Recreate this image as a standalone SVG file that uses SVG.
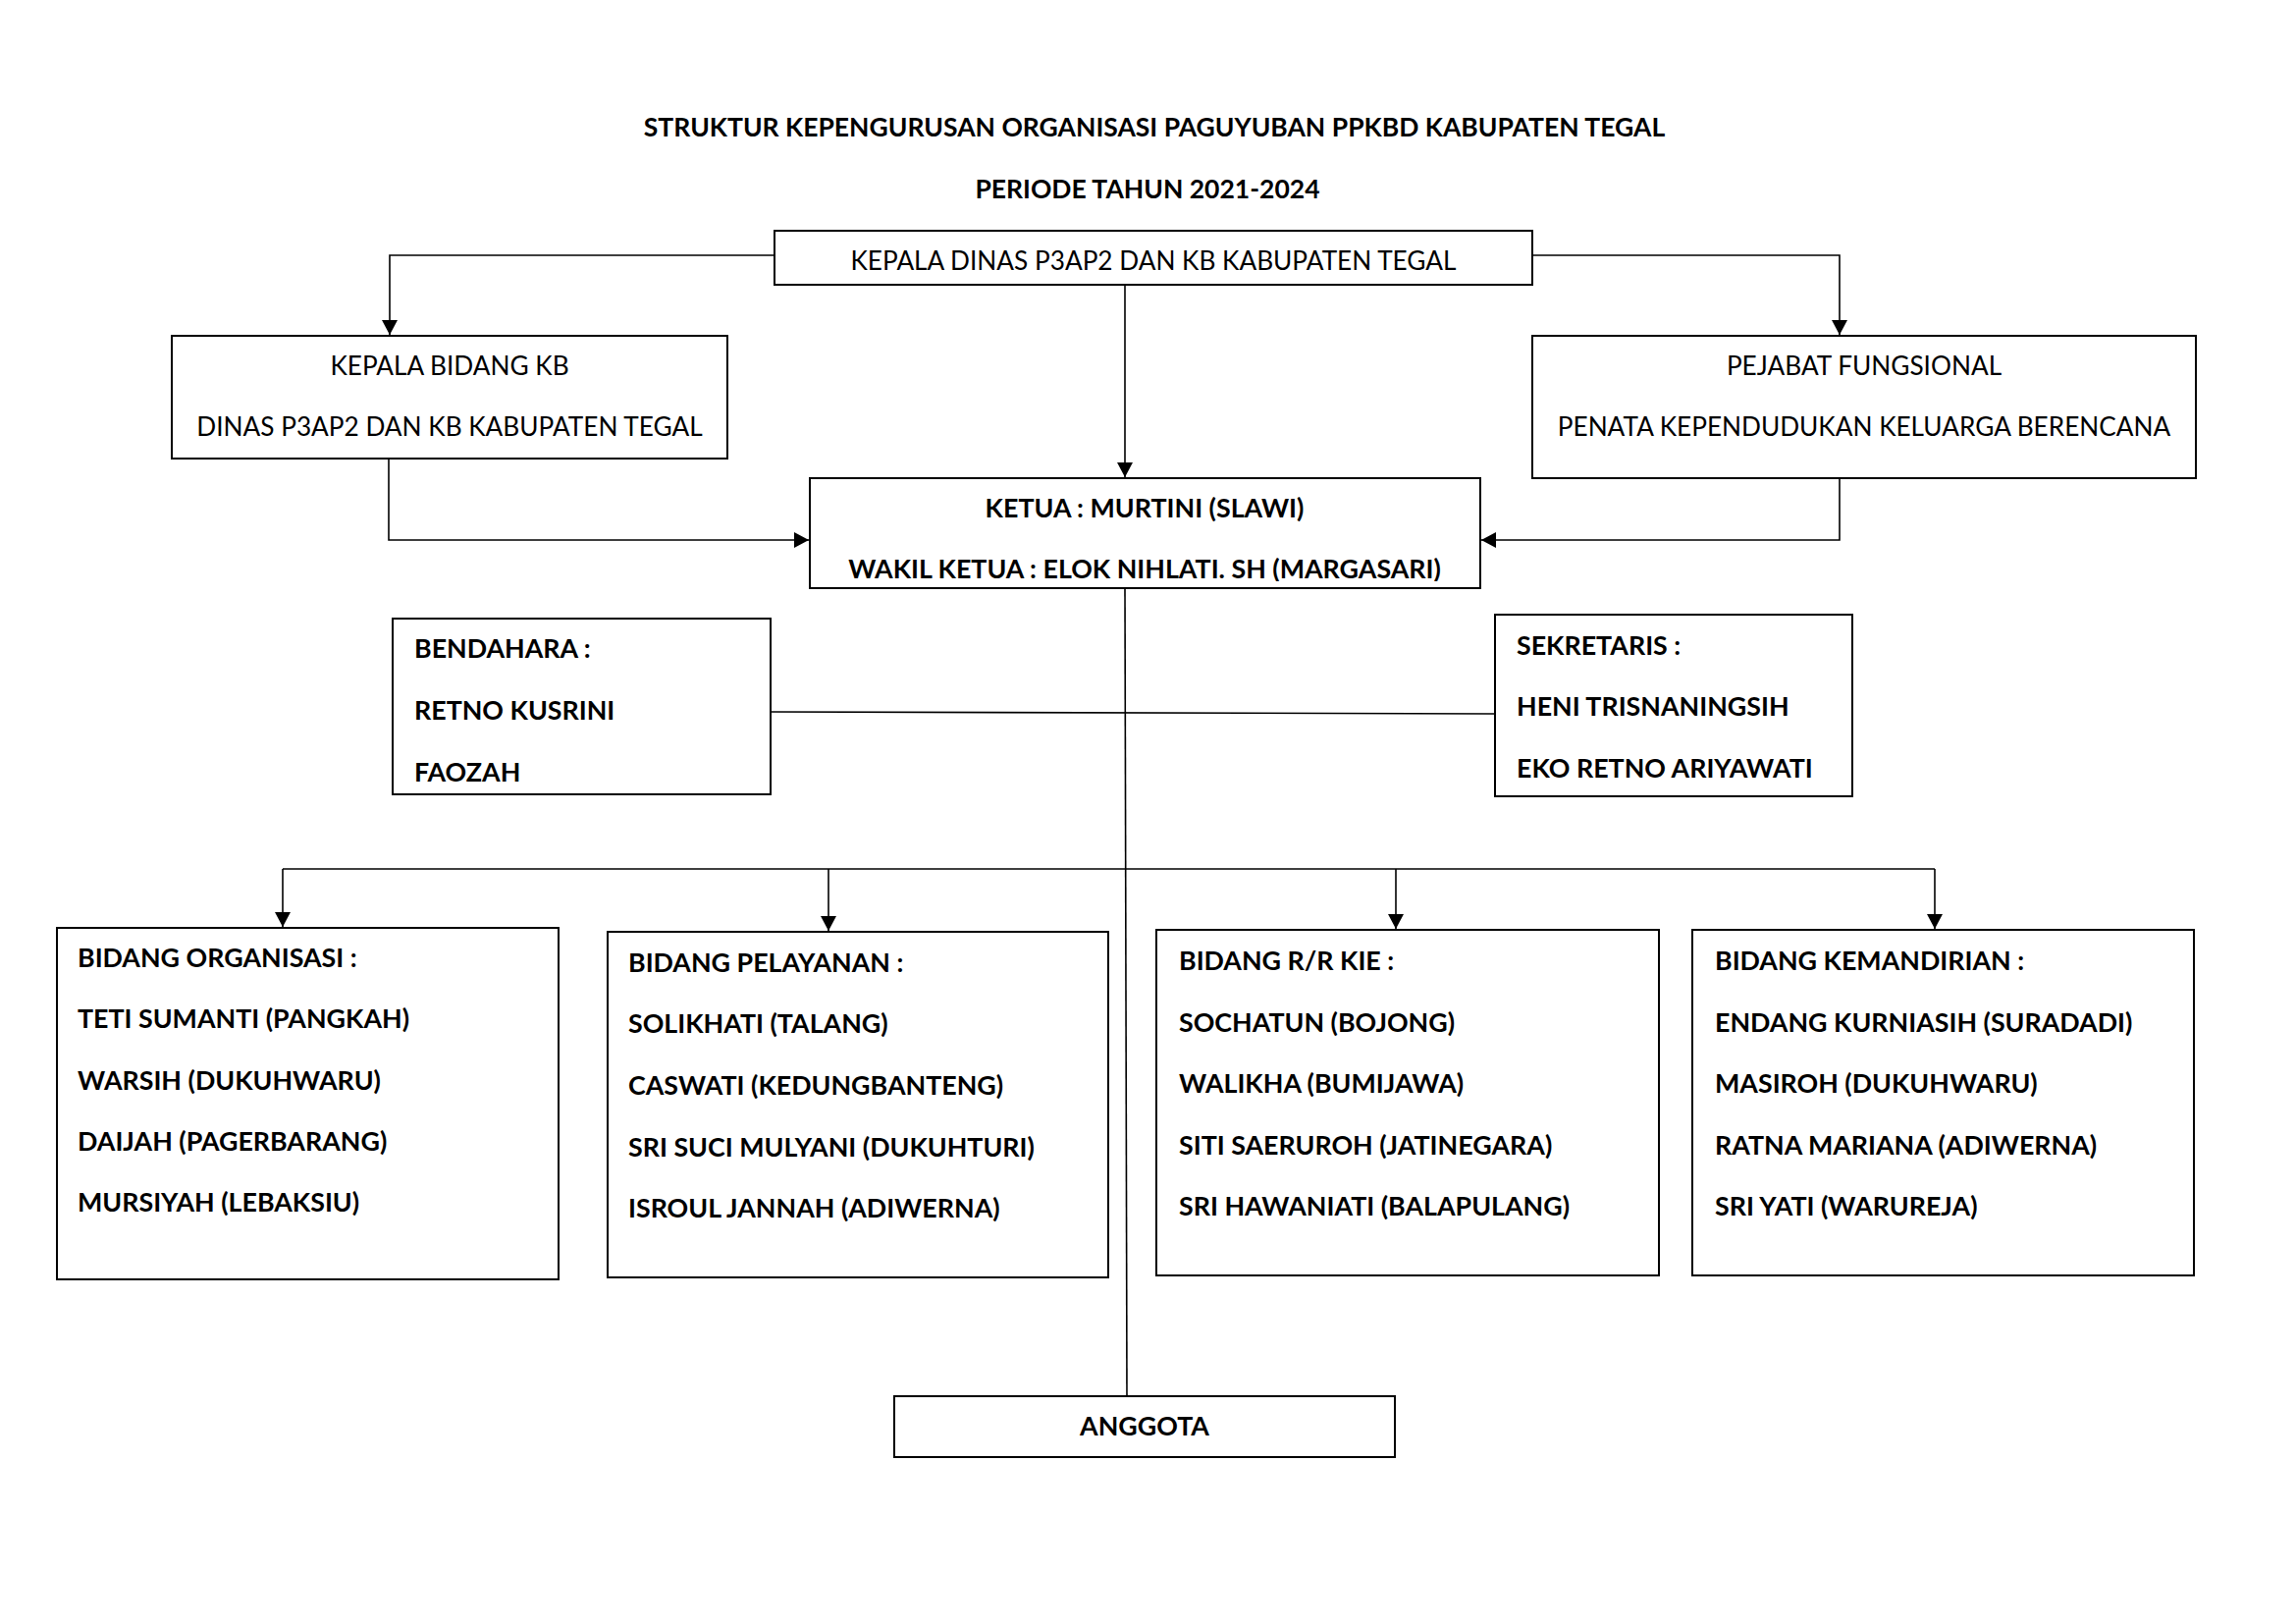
<svg xmlns="http://www.w3.org/2000/svg" width="2339" height="1654" viewBox="0 0 2339 1654">
<style>
  .box { fill: #fff; stroke: #000; stroke-width: 2; }
  .conn { fill: none; stroke: #000; stroke-width: 1.6; }
  text { font-family: Lato, "Liberation Sans", sans-serif; font-size: 26.2px; fill: #000; }
  .b { font-weight: bold; font-size: 26.8px; }
  .t { font-weight: bold; font-size: 26.5px; }
  .c { text-anchor: middle; }
</style>
<defs>
  <marker id="arr" markerUnits="userSpaceOnUse" markerWidth="16" markerHeight="16" refX="15" refY="8" orient="auto">
    <path d="M0,0 L15,8 L0,16 z" fill="#000"/>
  </marker>
  <clipPath id="ketuaClip"><rect x="825" y="487" width="683" height="105"/></clipPath>
</defs>
<rect width="2339" height="1654" fill="#fff"/>

<g id="title">
  <text class="t c" x="1176" y="139">STRUKTUR KEPENGURUSAN ORGANISASI PAGUYUBAN PPKBD KABUPATEN TEGAL</text>
  <text class="t c" x="1169" y="202">PERIODE TAHUN 2021-2024</text>
</g>

<g id="connectors">
  <path class="conn" d="M789,260 H397 V341" marker-end="url(#arr)"/>
  <path class="conn" d="M1561,260 H1874 V341" marker-end="url(#arr)"/>
  <path class="conn" d="M1146,290 V486" marker-end="url(#arr)"/>
  <path class="conn" d="M396,467 V550 H824" marker-end="url(#arr)"/>
  <path class="conn" d="M1874,487 V550 H1509" marker-end="url(#arr)"/>
  <path class="conn" d="M1146,599 L1148,1422"/>
  <path class="conn" d="M785,725 L1523,727"/>
  <path class="conn" d="M288,885 H1971"/>
  <path class="conn" d="M288,885 V944" marker-end="url(#arr)"/>
  <path class="conn" d="M844,885 V948" marker-end="url(#arr)"/>
  <path class="conn" d="M1422,885 V946" marker-end="url(#arr)"/>
  <path class="conn" d="M1971,885 V946" marker-end="url(#arr)"/>
</g>

<g id="kepala-dinas">
  <rect class="box" x="789" y="235" width="772" height="55"/>
  <text class="c" x="1175" y="275">KEPALA DINAS P3AP2 DAN KB KABUPATEN TEGAL</text>
</g>

<g id="kepala-bidang">
  <rect class="box" x="175" y="342" width="566" height="125"/>
  <text class="c" x="458" y="382">KEPALA BIDANG KB</text>
  <text class="c" x="458" y="444">DINAS P3AP2 DAN KB KABUPATEN TEGAL</text>
</g>

<g id="pejabat-fungsional">
  <rect class="box" x="1561" y="342" width="676" height="145"/>
  <text class="c" x="1899" y="382">PEJABAT FUNGSIONAL</text>
  <text class="c" x="1899" y="444">PENATA KEPENDUDUKAN KELUARGA BERENCANA</text>
</g>

<g id="ketua">
  <rect class="box" x="825" y="487" width="683" height="112"/>
  <text class="b c" x="1166" y="527">KETUA : MURTINI (SLAWI)</text>
  <text class="b c" x="1166" y="589" clip-path="url(#ketuaClip)">WAKIL KETUA : ELOK NIHLATI. SH (MARGASARI)</text>
</g>

<g id="bendahara">
  <rect class="box" x="400" y="630" width="385" height="179"/>
  <text class="b" x="422" y="670">BENDAHARA :</text>
  <text class="b" x="422" y="733">RETNO KUSRINI</text>
  <text class="b" x="422" y="796">FAOZAH</text>
</g>

<g id="sekretaris">
  <rect class="box" x="1523" y="626" width="364" height="185"/>
  <text class="b" x="1545" y="667">SEKRETARIS :</text>
  <text class="b" x="1545" y="729">HENI TRISNANINGSIH</text>
  <text class="b" x="1545" y="792">EKO RETNO ARIYAWATI</text>
</g>

<g id="bidang-organisasi">
  <rect class="box" x="58" y="945" width="511" height="358"/>
  <text class="b" x="79" y="985">BIDANG ORGANISASI :</text>
  <text class="b" x="79" y="1047">TETI SUMANTI (PANGKAH)</text>
  <text class="b" x="79" y="1110">WARSIH (DUKUHWARU)</text>
  <text class="b" x="79" y="1172">DAIJAH (PAGERBARANG)</text>
  <text class="b" x="79" y="1234">MURSIYAH (LEBAKSIU)</text>
</g>

<g id="bidang-pelayanan">
  <rect class="box" x="619" y="949" width="510" height="352"/>
  <text class="b" x="640" y="990">BIDANG PELAYANAN :</text>
  <text class="b" x="640" y="1052">SOLIKHATI (TALANG)</text>
  <text class="b" x="640" y="1115">CASWATI (KEDUNGBANTENG)</text>
  <text class="b" x="640" y="1178">SRI SUCI MULYANI (DUKUHTURI)</text>
  <text class="b" x="640" y="1240">ISROUL JANNAH (ADIWERNA)</text>
</g>

<g id="bidang-rr-kie">
  <rect class="box" x="1178" y="947" width="512" height="352"/>
  <text class="b" x="1201" y="988">BIDANG R/R KIE :</text>
  <text class="b" x="1201" y="1051">SOCHATUN (BOJONG)</text>
  <text class="b" x="1201" y="1113">WALIKHA (BUMIJAWA)</text>
  <text class="b" x="1201" y="1176">SITI SAERUROH (JATINEGARA)</text>
  <text class="b" x="1201" y="1238">SRI HAWANIATI (BALAPULANG)</text>
</g>

<g id="bidang-kemandirian">
  <rect class="box" x="1724" y="947" width="511" height="352"/>
  <text class="b" x="1747" y="988">BIDANG KEMANDIRIAN :</text>
  <text class="b" x="1747" y="1051">ENDANG KURNIASIH (SURADADI)</text>
  <text class="b" x="1747" y="1113">MASIROH (DUKUHWARU)</text>
  <text class="b" x="1747" y="1176">RATNA MARIANA (ADIWERNA)</text>
  <text class="b" x="1747" y="1238">SRI YATI (WARUREJA)</text>
</g>

<g id="anggota">
  <rect class="box" x="911" y="1422" width="510" height="62"/>
  <text class="b c" x="1166" y="1462">ANGGOTA</text>
</g>
</svg>
